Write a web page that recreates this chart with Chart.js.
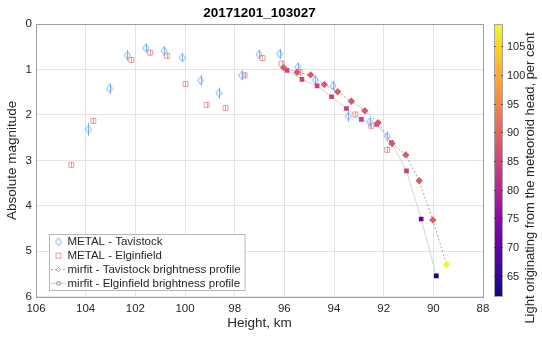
<!DOCTYPE html>
<html>
<head>
<meta charset="utf-8">
<script src="https://cdn.jsdelivr.net/npm/chart.js@4/dist/chart.umd.min.js"></script>
<style>
  html, body { margin: 0; padding: 0; background: #ffffff; }
  #wrap { width: 542px; height: 337px; }
</style>
</head>
<body>
<div id="wrap"><canvas id="c" width="542" height="337"></canvas></div>
<script>
// ---- chart text and ticks ----
const TITLE = '20171201_103027';
const X_LABEL = 'Height, km';
const Y_LABEL = 'Absolute magnitude';
const CB_LABEL = 'Light originating from the meteoroid head, per cent';
const xTicks = [106, 104, 102, 100, 98, 96, 94, 92, 90, 88];
const yTicks = [0, 1, 2, 3, 4, 5, 6];
const cbTicks = [65, 70, 75, 80, 85, 90, 95, 100, 105];
const cbRange = [61.3, 108.9];

// ---- METAL photometry, Tavistock ----
const metalTavHeight = [103.89, 103.04, 102.32, 101.58, 100.84, 100.11, 99.37, 98.64, 97.72, 97.02, 96.19, 95.46, 94.75, 94.04, 93.42, 92.57, 91.86];
const metalTavMag    = [2.32, 1.42, 0.69, 0.53, 0.59, 0.74, 1.24, 1.52, 1.13, 0.67, 0.66, 0.95, 1.23, 1.36, 2.03, 2.16, 2.47];
const metalTavErr    = [0.14, 0.12, 0.12, 0.10, 0.10, 0.10, 0.12, 0.12, 0.11, 0.10, 0.11, 0.10, 0.10, 0.10, 0.12, 0.11, 0.11];

// ---- METAL photometry, Elginfield ----
const metalElgHeight = [104.58, 103.69, 102.16, 101.40, 100.73, 99.98, 99.13, 98.37, 97.60, 96.88, 96.11, 95.38, 93.14, 92.50, 91.86];
const metalElgMag    = [3.10, 2.13, 0.79, 0.63, 0.70, 1.32, 1.78, 1.85, 1.13, 0.75, 0.87, 1.06, 1.99, 2.24, 2.77];
const metalElgErr    = [0.07, 0.07, 0.07, 0.07, 0.07, 0.07, 0.07, 0.07, 0.07, 0.07, 0.07, 0.07, 0.07, 0.07, 0.07];

// ---- mirfit brightness profile, Tavistock ----
const mirTavHeight = [96.03, 95.49, 94.94, 94.39, 93.85, 93.30, 92.76, 92.22, 91.66, 91.11, 90.57, 90.02, 89.47];
const mirTavMag    = [0.96, 1.06, 1.12, 1.33, 1.49, 1.70, 1.91, 2.17, 2.63, 2.88, 3.45, 4.31, 5.29];
const mirTavPct    = [88, 88, 88, 88, 88, 88, 88, 88, 88, 88, 88, 88.5, 108.9];

// ---- mirfit brightness profile, Elginfield ----
const mirElgHeight = [95.89, 95.29, 94.68, 94.10, 93.50, 92.90, 92.28, 91.69, 91.08, 90.49, 89.88];
const mirElgMag    = [1.02, 1.22, 1.36, 1.60, 1.86, 2.10, 2.21, 2.61, 3.23, 4.29, 5.54];
const mirElgPct    = [84, 84, 84, 84, 84, 84, 85, 85, 84, 71, 61.3];

// ---- styling ----
const FONT = '"Liberation Sans", Arial, Helvetica, sans-serif';
const TEXT = '#262626';
const TAV_BLUE = 'rgba(95,168,245,0.85)';
const ELG_RED = 'rgba(238,130,130,0.8)';

// plasma colour map
const PLASMA = [
  [13, 8, 135], [65, 4, 157], [106, 0, 168], [143, 13, 164], [177, 42, 144],
  [204, 71, 120], [225, 100, 98], [242, 132, 75], [252, 166, 54], [252, 206, 37], [240, 249, 33]
];
function plasma(t) {
  t = Math.min(1, Math.max(0, t));
  const f = t * (PLASMA.length - 1);
  const i = Math.min(PLASMA.length - 2, Math.floor(f));
  const u = f - i;
  const a = PLASMA[i], b = PLASMA[i + 1];
  const c = a.map((v, k) => Math.round(v + (b[k] - v) * u));
  return `rgb(${c[0]},${c[1]},${c[2]})`;
}
const pctColor = v => plasma((v - cbRange[0]) / (cbRange[1] - cbRange[0]));

// tall open diamond marker
function makeDiamond(w, h, color) {
  const cv = document.createElement('canvas');
  cv.width = w + 2; cv.height = h + 2;
  const g = cv.getContext('2d');
  g.strokeStyle = color; g.lineWidth = 1;
  const cx = cv.width / 2, cy = cv.height / 2;
  g.beginPath();
  g.moveTo(cx, cy - h / 2); g.lineTo(cx + w / 2, cy); g.lineTo(cx, cy + h / 2); g.lineTo(cx - w / 2, cy);
  g.closePath(); g.stroke();
  return cv;
}
const tavDiamond = makeDiamond(6, 8, TAV_BLUE);

const pts = (xs, ys) => xs.map((x, i) => ({ x: x, y: ys[i] }));

// vertical error bars for the METAL series
const errorBars = {
  id: 'errorBars',
  beforeDatasetsDraw(chart) {
    const { ctx, chartArea, scales: { x, y } } = chart;
    ctx.save();
    ctx.beginPath();
    ctx.rect(chartArea.left, chartArea.top, chartArea.right - chartArea.left, chartArea.bottom - chartArea.top);
    ctx.clip();
    chart.data.datasets.forEach(ds => {
      if (!ds.errors) return;
      ctx.strokeStyle = ds.borderColor;
      ctx.lineWidth = 1;
      ds.data.forEach((p, i) => {
        const px = Math.round(x.getPixelForValue(p.x)) + 0.5;
        ctx.beginPath();
        ctx.moveTo(px, y.getPixelForValue(p.y - ds.errors[i]));
        ctx.lineTo(px, y.getPixelForValue(p.y + ds.errors[i]));
        ctx.stroke();
      });
    });
    ctx.restore();
  }
};

// axes box, legend and colour bar
const decorations = {
  id: 'decorations',
  afterDraw(chart) {
    const { ctx, chartArea: ca } = chart;
    ctx.save();
    // box around the axes
    ctx.strokeStyle = '#a0a0a0';
    ctx.lineWidth = 1;
    ctx.strokeRect(Math.round(ca.left) + 0.5, Math.round(ca.top) + 0.5,
                   Math.round(ca.right - ca.left), Math.round(ca.bottom - ca.top));

    // legend
    const lx = 49.5, ly = 234.5, lw = 195.5, lh = 56;
    ctx.fillStyle = '#ffffff';
    ctx.fillRect(lx, ly, lw, lh);
    ctx.strokeStyle = '#b8b8b8';
    ctx.strokeRect(lx, ly, lw, lh);
    const rows = [
      { label: 'METAL - Tavistock', kind: 'metalTav' },
      { label: 'METAL - Elginfield', kind: 'metalElg' },
      { label: 'mirfit - Tavistock brightness profile', kind: 'mirTav' },
      { label: 'mirfit - Elginfield brightness profile', kind: 'mirElg' }
    ];
    ctx.font = '11.5px ' + FONT;
    ctx.textBaseline = 'middle';
    ctx.textAlign = 'left';
    rows.forEach((r, i) => {
      const ry = ly + 7.3 + i * 13.85;
      const mx = 58.5;
      if (r.kind === 'metalTav') {
        ctx.drawImage(tavDiamond, mx - tavDiamond.width / 2, ry - tavDiamond.height / 2);
      } else if (r.kind === 'metalElg') {
        ctx.strokeStyle = ELG_RED; ctx.lineWidth = 1;
        ctx.strokeRect(mx - 2.5, ry - 2.5, 5, 5);
      } else {
        ctx.strokeStyle = r.kind === 'mirTav' ? '#8a8a8a' : '#bdbdbd';
        ctx.lineWidth = 0.8;
        ctx.setLineDash(r.kind === 'mirTav' ? [2, 2] : []);
        ctx.beginPath(); ctx.moveTo(51, ry); ctx.lineTo(66, ry); ctx.stroke();
        ctx.setLineDash([]);
        ctx.strokeStyle = '#8a8a8a';
        ctx.fillStyle = '#ffffff';
        ctx.beginPath();
        if (r.kind === 'mirTav') {
          ctx.moveTo(mx, ry - 2.2); ctx.lineTo(mx + 2.2, ry); ctx.lineTo(mx, ry + 2.2); ctx.lineTo(mx - 2.2, ry); ctx.closePath();
        } else {
          ctx.rect(mx - 1.6, ry - 1.6, 3.2, 3.2);
        }
        ctx.fill(); ctx.stroke();
      }
      ctx.fillStyle = TEXT;
      ctx.fillText(r.label, 67.5, ry + 0.5);
    });

    // colour bar
    const cx0 = 494, cx1 = 503, ct = ca.top, cb = ca.bottom;
    const grad = ctx.createLinearGradient(0, cb, 0, ct);
    PLASMA.forEach((c, i) => grad.addColorStop(i / (PLASMA.length - 1), `rgb(${c[0]},${c[1]},${c[2]})`));
    ctx.fillStyle = grad;
    ctx.fillRect(cx0, ct, cx1 - cx0, cb - ct);
    ctx.strokeStyle = '#a6a6a6';
    ctx.lineWidth = 1;
    ctx.strokeRect(cx0 + 0.5, Math.round(ct) + 0.5, cx1 - cx0 - 1, Math.round(cb - ct) - 1);
    const cbY = v => cb - (v - cbRange[0]) / (cbRange[1] - cbRange[0]) * (cb - ct);
    ctx.font = '11px ' + FONT;
    ctx.fillStyle = TEXT;
    ctx.textAlign = 'left';
    ctx.textBaseline = 'middle';
    cbTicks.forEach(v => {
      const ty = Math.round(cbY(v)) + 0.5;
      ctx.strokeStyle = 'rgba(40,40,40,0.6)';
      ctx.beginPath(); ctx.moveTo(cx1 - 2, ty); ctx.lineTo(cx1, ty); ctx.stroke();
      ctx.beginPath(); ctx.moveTo(cx0, ty); ctx.lineTo(cx0 + 2, ty); ctx.stroke();
      ctx.fillText(String(v), 507, ty + 0.5);
    });
    ctx.save();
    ctx.translate(530.5, 178);
    ctx.rotate(-Math.PI / 2);
    ctx.textAlign = 'center';
    ctx.textBaseline = 'middle';
    ctx.font = '13px ' + FONT;
    ctx.fillText(CB_LABEL, 0, 0);
    ctx.restore();
    ctx.restore();
  }
};

Chart.defaults.font.family = FONT;
Chart.defaults.color = TEXT;

new Chart(document.getElementById('c'), {
  type: 'scatter',
  data: {
    datasets: [
      {
        label: 'METAL - Tavistock',
        data: pts(metalTavHeight, metalTavMag),
        errors: metalTavErr,
        pointStyle: tavDiamond,
        borderColor: TAV_BLUE,
        backgroundColor: 'rgba(0,0,0,0)',
        order: 4
      },
      {
        label: 'METAL - Elginfield',
        data: pts(metalElgHeight, metalElgMag),
        errors: metalElgErr,
        pointStyle: 'rect',
        pointRadius: 3.5,
        borderWidth: 1,
        borderColor: ELG_RED,
        backgroundColor: 'rgba(0,0,0,0)',
        order: 3
      },
      {
        label: 'mirfit - Elginfield brightness profile',
        data: pts(mirElgHeight, mirElgMag),
        showLine: true,
        borderColor: '#cfcfcf',
        borderWidth: 0.9,
        pointStyle: 'rect',
        pointRadius: 3.3,
        pointBorderWidth: 0,
        pointBackgroundColor: mirElgPct.map(pctColor),
        pointBorderColor: mirElgPct.map(pctColor),
        order: 2
      },
      {
        label: 'mirfit - Tavistock brightness profile',
        data: pts(mirTavHeight, mirTavMag),
        showLine: true,
        borderColor: '#8f8f8f',
        borderWidth: 0.8,
        borderDash: [2, 2],
        pointStyle: 'rectRot',
        pointRadius: 3.7,
        pointBorderWidth: 0,
        pointBackgroundColor: mirTavPct.map(pctColor),
        pointBorderColor: mirTavPct.map(pctColor),
        order: 1
      }
    ]
  },
  options: {
    responsive: false,
    animation: false,
    devicePixelRatio: 1,
    layout: { padding: { left: 0, right: 59, top: 0, bottom: 0 } },
    plugins: {
      legend: { display: false },
      tooltip: { enabled: false },
      title: {
        display: true,
        text: TITLE,
        fullSize: false,
        color: '#000000',
        font: { size: 13.5, weight: 'bold', family: FONT, lineHeight: 1.2 },
        padding: { top: 5, bottom: 2.8 }
      }
    },
    scales: {
      x: {
        type: 'linear',
        position: 'bottom',
        reverse: true,
        min: 88,
        max: 106,
        afterBuildTicks: s => { s.ticks = xTicks.map(v => ({ value: v })); },
        afterFit: s => { s.height = 40.3; },
        ticks: { font: { size: 11.5 }, color: TEXT, padding: 5.5, maxRotation: 0, autoSkip: false },
        grid: { color: '#e4e4e4', lineWidth: 1, drawTicks: false },
        border: { display: false },
        title: { display: true, text: X_LABEL, color: TEXT, font: { size: 13.5, lineHeight: 1.2 }, padding: { top: 0, bottom: 5.9 } }
      },
      y: {
        type: 'linear',
        reverse: true,
        min: 0,
        max: 6,
        afterBuildTicks: s => { s.ticks = yTicks.map(v => ({ value: v })); },
        afterFit: s => { s.width = 36; },
        ticks: { font: { size: 11.5 }, color: TEXT, padding: 4, autoSkip: false },
        grid: { color: '#e4e4e4', lineWidth: 1, drawTicks: false },
        border: { display: false },
        title: { display: true, text: Y_LABEL, color: TEXT, font: { size: 13.5, lineHeight: 1.2 }, padding: { top: 3.9, bottom: 0 } }
      }
    }
  },
  plugins: [errorBars, decorations]
});
</script>
</body>
</html>
